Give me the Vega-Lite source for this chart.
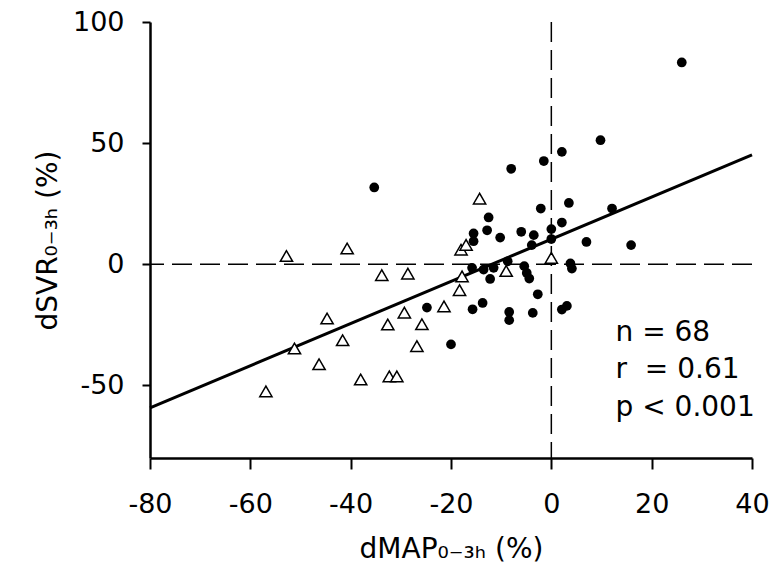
{
  "$schema": "https://vega.github.io/schema/vega-lite/v6.json",
  "width": 602,
  "height": 436,
  "autosize": {"type": "none"},
  "padding": {"left": 150, "top": 22, "right": 17, "bottom": 122},
  "background": "white",
  "config": {
    "view": {"stroke": null},
    "font": "DejaVu Sans",
    "axis": {
      "grid": false,
      "labelFlush": false,
      "labelOverlap": false,
      "domainColor": "black",
      "domainWidth": 2.5,
      "tickColor": "black",
      "tickWidth": 2,
      "tickSize": 9,
      "labelFont": "DejaVu Sans",
      "labelFontSize": 27,
      "labelColor": "black",
      "labelExpr": "'' + datum.value",
      "titleFont": "DejaVu Sans",
      "titleFontSize": 28,
      "titleFontWeight": "normal",
      "titleColor": "black"
    }
  },
  "datasets": {
    "points": [
      {"dmap": -52.8, "dsvr": 3.4, "group": "triangle"},
      {"dmap": -40.7, "dsvr": 6.5, "group": "triangle"},
      {"dmap": -33.8, "dsvr": -4.5, "group": "triangle"},
      {"dmap": -28.6, "dsvr": -3.9, "group": "triangle"},
      {"dmap": -29.3, "dsvr": -20.0, "group": "triangle"},
      {"dmap": -44.7, "dsvr": -22.4, "group": "triangle"},
      {"dmap": -32.6, "dsvr": -24.9, "group": "triangle"},
      {"dmap": -25.8, "dsvr": -24.8, "group": "triangle"},
      {"dmap": -41.6, "dsvr": -31.4, "group": "triangle"},
      {"dmap": -26.8, "dsvr": -33.8, "group": "triangle"},
      {"dmap": -51.2, "dsvr": -34.8, "group": "triangle"},
      {"dmap": -46.3, "dsvr": -41.3, "group": "triangle"},
      {"dmap": -38.0, "dsvr": -47.6, "group": "triangle"},
      {"dmap": -32.3, "dsvr": -46.3, "group": "triangle"},
      {"dmap": -30.8, "dsvr": -46.3, "group": "triangle"},
      {"dmap": -56.9, "dsvr": -52.5, "group": "triangle"},
      {"dmap": -14.3, "dsvr": 27.1, "group": "triangle"},
      {"dmap": -18.0, "dsvr": 6.0, "group": "triangle"},
      {"dmap": -17.0, "dsvr": 8.0, "group": "triangle"},
      {"dmap": -9.0, "dsvr": -2.8, "group": "triangle"},
      {"dmap": 0.0, "dsvr": 2.6, "group": "triangle"},
      {"dmap": -17.8, "dsvr": -5.0, "group": "triangle"},
      {"dmap": -18.3, "dsvr": -10.7, "group": "triangle"},
      {"dmap": -21.4, "dsvr": -17.4, "group": "triangle"},
      {"dmap": -35.3, "dsvr": 31.7, "group": "dot"},
      {"dmap": 26.0, "dsvr": 83.3, "group": "dot"},
      {"dmap": 9.8, "dsvr": 51.2, "group": "dot"},
      {"dmap": 2.1, "dsvr": 46.4, "group": "dot"},
      {"dmap": -1.5, "dsvr": 42.6, "group": "dot"},
      {"dmap": -8.0, "dsvr": 39.4, "group": "dot"},
      {"dmap": 3.5, "dsvr": 25.3, "group": "dot"},
      {"dmap": -2.1, "dsvr": 23.0, "group": "dot"},
      {"dmap": 12.1, "dsvr": 23.0, "group": "dot"},
      {"dmap": -12.5, "dsvr": 19.3, "group": "dot"},
      {"dmap": 2.1, "dsvr": 17.2, "group": "dot"},
      {"dmap": -12.8, "dsvr": 14.0, "group": "dot"},
      {"dmap": -15.5, "dsvr": 12.7, "group": "dot"},
      {"dmap": -6.0, "dsvr": 13.4, "group": "dot"},
      {"dmap": -10.2, "dsvr": 11.0, "group": "dot"},
      {"dmap": -3.5, "dsvr": 12.0, "group": "dot"},
      {"dmap": 0.0, "dsvr": 14.5, "group": "dot"},
      {"dmap": -15.5, "dsvr": 9.5, "group": "dot"},
      {"dmap": 7.0, "dsvr": 9.2, "group": "dot"},
      {"dmap": 15.9, "dsvr": 7.9, "group": "dot"},
      {"dmap": 0.0, "dsvr": 10.4, "group": "dot"},
      {"dmap": -3.9, "dsvr": 7.9, "group": "dot"},
      {"dmap": 3.8, "dsvr": 0.3, "group": "dot"},
      {"dmap": 4.1, "dsvr": -1.8, "group": "dot"},
      {"dmap": 3.1, "dsvr": -17.2, "group": "dot"},
      {"dmap": 2.1, "dsvr": -18.7, "group": "dot"},
      {"dmap": -2.7, "dsvr": -12.4, "group": "dot"},
      {"dmap": -3.7, "dsvr": -20.1, "group": "dot"},
      {"dmap": -15.8, "dsvr": -1.5, "group": "dot"},
      {"dmap": -13.5, "dsvr": -2.2, "group": "dot"},
      {"dmap": -11.5, "dsvr": -1.5, "group": "dot"},
      {"dmap": -12.2, "dsvr": -6.1, "group": "dot"},
      {"dmap": -8.7, "dsvr": 1.2, "group": "dot"},
      {"dmap": -5.4, "dsvr": -0.8, "group": "dot"},
      {"dmap": -4.9, "dsvr": -3.6, "group": "dot"},
      {"dmap": -4.4, "dsvr": -5.9, "group": "dot"},
      {"dmap": -13.7, "dsvr": -16.0, "group": "dot"},
      {"dmap": -15.7, "dsvr": -18.6, "group": "dot"},
      {"dmap": -8.4, "dsvr": -19.7, "group": "dot"},
      {"dmap": -8.4, "dsvr": -23.1, "group": "dot"},
      {"dmap": -20.0, "dsvr": -33.1, "group": "dot"},
      {"dmap": -24.8, "dsvr": -17.9, "group": "dot"}
    ],
    "fit": [
      {"dmap": -80, "dsvr": -59.3},
      {"dmap": 40, "dsvr": 45.1}
    ],
    "stats": [
      {"dmap": 12.8, "dsvr": -31.5, "label": "n = 68"},
      {"dmap": 12.8, "dsvr": -47, "label": "r\u00a0 = 0.61"},
      {"dmap": 12.8, "dsvr": -62.5, "label": "p < 0.001"}
    ]
  },
  "encoding": {
    "x": {
      "field": "dmap",
      "type": "quantitative",
      "scale": {"domain": [-80, 40], "nice": false, "zero": false},
      "axis": {
        "title": "dMAP₀₋₃ₕ (%)",
        "values": [-80, -60, -40, -20, 0, 20, 40],
        "labelPadding": 22,
        "titlePadding": 18,
        "tickSize": 11
      }
    },
    "y": {
      "field": "dsvr",
      "type": "quantitative",
      "scale": {"domain": [-80, 100], "nice": false, "zero": false},
      "axis": {
        "title": "dSVR₀₋₃ₕ (%)",
        "values": [-50, 0, 50, 100],
        "labelPadding": 18,
        "titlePadding": 10,
        "tickSize": 8
      }
    }
  },
  "layer": [
    {
      "data": {"values": [{"ref": 0}]},
      "mark": {"type": "rule", "color": "black", "strokeWidth": 1.5, "strokeDash": [20, 8]},
      "encoding": {"x": {"field": "ref", "type": "quantitative"}, "y": null}
    },
    {
      "data": {"values": [{"ref": 0}]},
      "mark": {"type": "rule", "color": "black", "strokeWidth": 1.5, "strokeDash": [20, 8]},
      "encoding": {"y": {"field": "ref", "type": "quantitative"}, "x": null}
    },
    {
      "data": {"name": "fit"},
      "mark": {"type": "line", "color": "black", "strokeWidth": 3}
    },
    {
      "data": {"name": "points"},
      "transform": [{"filter": "datum.group === 'triangle'"}],
      "mark": {"type": "point", "shape": "triangle-up", "size": 150, "filled": false, "fill": "white", "fillOpacity": 1, "stroke": "black", "strokeWidth": 1.5, "opacity": 1}
    },
    {
      "data": {"name": "points"},
      "transform": [{"filter": "datum.group === 'dot'"}],
      "mark": {"type": "circle", "size": 95, "color": "black", "opacity": 1}
    },
    {
      "data": {"name": "stats"},
      "mark": {"type": "text", "align": "left", "baseline": "alphabetic", "font": "DejaVu Sans", "fontSize": 28, "color": "black"},
      "encoding": {"text": {"field": "label"}}
    }
  ]
}
